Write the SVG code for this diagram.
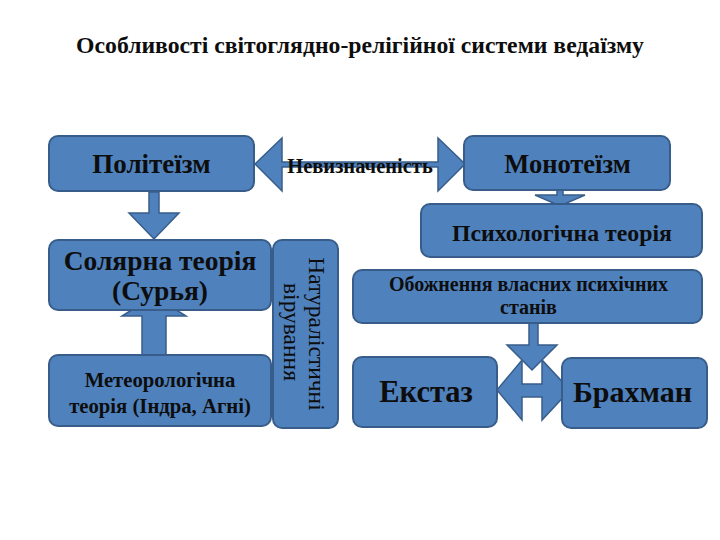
<svg xmlns="http://www.w3.org/2000/svg" width="720" height="540" viewBox="0 0 720 540">
<style>
.box{fill:#4F81BD;stroke:#385D8A;stroke-width:2}
.arr{fill:#4F81BD;stroke:#385D8A;stroke-width:1.5;stroke-linejoin:miter}
text{font-family:"Liberation Serif","Times New Roman",serif;fill:#0d0d0d;text-anchor:middle}
.b{font-weight:bold}
</style>
<rect width="720" height="540" fill="#ffffff"/>
<text id="title" class="b" x="360" y="53" font-size="23.7">Особливості світоглядно-релігійної системи ведаїзму</text>
<g id="connectors">
<polygon class="arr" points="255,164 282,138 282,162 438,162 438,138 465,164 438,191 438,167 282,167 282,191"/>
<polygon class="arr" points="149,192 159,192 159,213 179,213 154,239 129,213 149,213"/>
<polygon class="arr" points="557,190 563,190 563,195 585,195 560,206 535,195 557,195"/>
<polygon class="arr" points="154,296 186,316 166,316 166,357 186,357 154,377 122,357 142,357 142,316 122,316"/>
<polygon class="arr" points="497,390 522,360 522,384 542,384 542,360 570,390 542,420 542,397 522,397 522,420"/>
<polygon class="arr" points="529,323 538,323 538,345 557,345 532,370 507,345 529,345"/>
</g>
<g id="node-politeism"><rect class="box" x="49" y="136" width="205" height="55" rx="9"/><text class="b" x="151.5" y="173" font-size="27">Політеїзм</text></g>
<g id="node-monoteism"><rect class="box" x="464" y="136" width="206" height="54" rx="9"/><text class="b" x="567.5" y="173" font-size="26.5">Монотеїзм</text></g>
<g id="label-nevyznachenist"><text class="b" x="360" y="172.5" font-size="20.5">Невизначеність</text></g>
<g id="node-psykholohichna"><rect class="box" x="421" y="204" width="281" height="53" rx="9"/><text class="b" x="562" y="240.5" font-size="23.8">Психологічна теорія</text></g>
<g id="node-solyarna"><rect class="box" x="49" y="240" width="222" height="70" rx="9"/><text class="b" x="160" y="270" font-size="27.5">Солярна теорія</text><text class="b" x="160" y="300" font-size="27.5">(Сурья)</text></g>
<g id="node-meteorolohichna"><rect class="box" x="49" y="355" width="222" height="71" rx="9"/><text class="b" x="160" y="387" font-size="20.7">Метеорологічна</text><text class="b" x="160" y="413" font-size="20.7">теорія (Індра, Агні)</text></g>
<g id="node-naturalistychni"><rect class="box" x="273" y="240" width="65" height="188" rx="9"/><text transform="translate(309,334) rotate(90)" font-size="23.5">Натуралістичні</text><text transform="translate(284,332) rotate(90)" font-size="23.5">вірування</text></g>
<g id="node-obozhnennya"><rect class="box" x="353" y="270" width="349" height="53" rx="9"/><text class="b" x="528.5" y="290.5" font-size="20">Обожнення власних психічних</text><text class="b" x="528.5" y="313.5" font-size="20">станів</text></g>
<g id="node-ekstaz"><rect class="box" x="353" y="357" width="144" height="70" rx="9"/><text class="b" x="426" y="402" font-size="30.5">Екстаз</text></g>
<g id="node-brakhman"><rect class="box" x="562" y="358" width="145" height="70" rx="9"/><text class="b" x="632.5" y="402" font-size="30">Брахман</text></g>
</svg>
